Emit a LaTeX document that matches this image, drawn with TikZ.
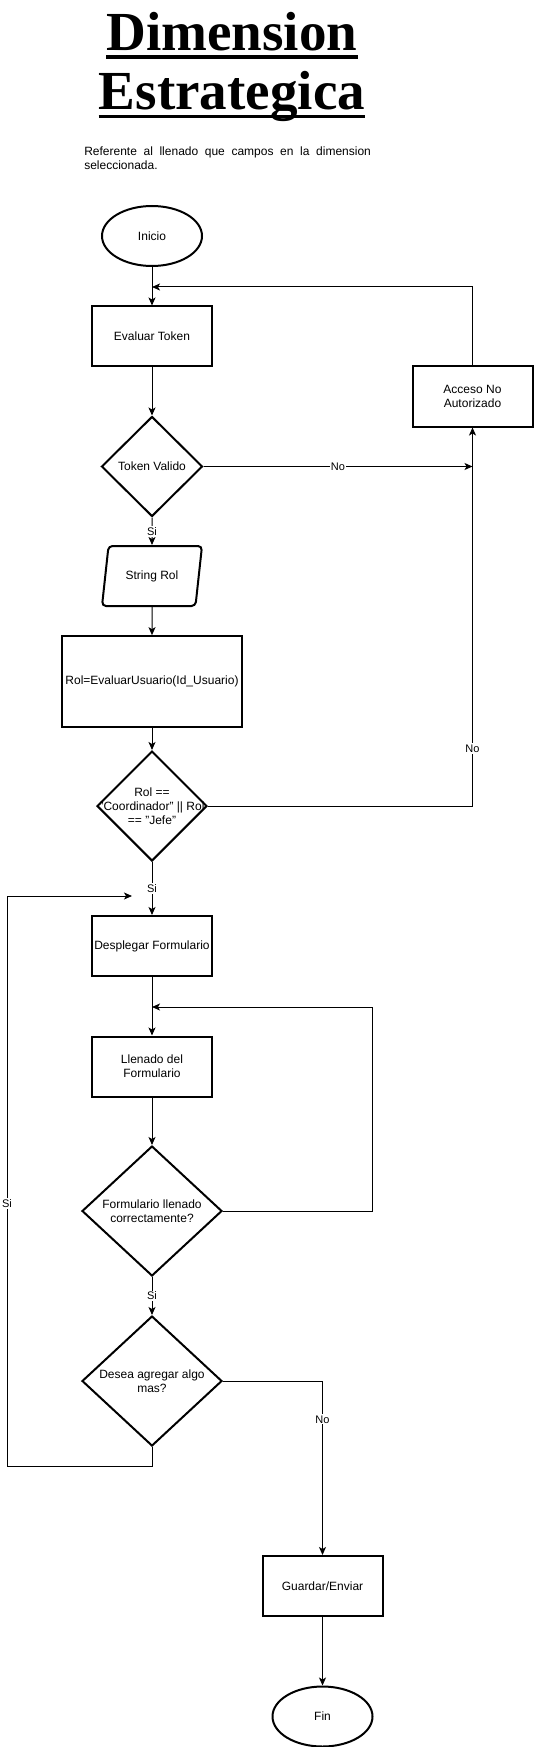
\documentclass[tikz,border=0pt]{standalone}
\usepackage{fontspec}
\setmainfont{Liberation Sans}
\newfontfamily\titlefont{Liberation Serif}
\usetikzlibrary{shapes.geometric,arrows.meta}

\begin{document}
\begin{tikzpicture}[x=0.75pt, y=-0.75pt,
      every node/.style = {font=\fontsize{9}{10.5}\selectfont, align=center},
      titletext/.style = {inner sep=0pt, anchor=base,
        font=\titlefont\bfseries\fontsize{41.3}{50}\selectfont},
      process/.style = {rectangle, draw, line width=1.5pt, inner sep=1pt,
        minimum width=90pt, minimum height=45pt},
      terminal/.style = {ellipse, draw, line width=1.5pt,
        minimum width=75pt, minimum height=45pt},
      decision/.style = {diamond, draw, line width=1.5pt, inner sep=0pt},
      iobox/.style = {trapezium, trapezium left angle=72, trapezium right angle=108,
        trapezium stretches body, draw, line width=1.5pt, rounded corners=3pt,
        minimum width=75pt, minimum height=45pt},
      arrow/.style = {-{Stealth[length=6pt, width=5.25pt, inset=1.5pt]}, line width=0.75pt},
      tag/.style = {fill=white, inner sep=1pt, font=\fontsize{8.25}{9}\selectfont}]
    \useasboundingbox (0,0) rectangle (534,1747);
    \node (dimension) at (232,51) [titletext] {Dimension};
    \node (estrategica) at (232,110) [titletext] {Estrategica};
    \draw[line width=2.4pt] ([yshift=-4.5pt]dimension.base west) -- ([yshift=-4.5pt]dimension.base east);
    \draw[line width=2.4pt] ([yshift=-5pt]estrategica.base west) -- ([yshift=-5pt]estrategica.base east);
    \node (intro) at (84,156) [anchor=base west, inner sep=0pt, text width=215pt, align=justify]
      {\hyphenpenalty=10000 \tolerance=9999 Referente al llenado que campos en la dimension seleccionada.\par};

    \node (inicio) at (152,236) [terminal] {Inicio};
    \node (evaltoken) at (152,336.5) [process] {Evaluar Token};
    \node (valido) at (152,466.5) [decision, minimum width=75.75pt, minimum height=75pt] {Token Valido};
    \node (acceso) at (472.5,396.5) [process] {Acceso No\\Autorizado};
    \node (strrol) at (152,576) [iobox] {String Rol};
    \node (evalrol) at (152,681.5) [process, minimum width=135pt, minimum height=68pt]
      {Rol=EvaluarUsuario(Id\_Usuario)};
    \node (esrol) at (152,806) [decision, minimum width=82.5pt, minimum height=82.5pt,
      label={[align=center]center:Rol ==\\"Coordinador" || Rol\\== "Jefe"}] {};
    \node (despliega) at (152,946) [process] {Desplegar Formulario};
    \node (llenado) at (152,1066.5) [process] {Llenado del\\Formulario};
    \node (correcto) at (152,1211) [decision, minimum width=105pt, minimum height=97.5pt]
      {Formulario llenado\\correctamente?};
    \node (agregar) at (152,1381) [decision, minimum width=105pt, minimum height=97.5pt]
      {Desea agregar algo\\mas?};
    \node (guardar) at (322.5,1586) [process] {Guardar/Enviar};
    \node (fin) at (322.5,1716.5) [terminal] {Fin};

    \coordinate (retorno) at (152,287);
    \coordinate (derecha) at (372,1007);
    \coordinate (regreso) at (152,1007);
    \coordinate (bajo) at (152,1466);
    \coordinate (izquierda) at (7,896);
    \coordinate (entrada) at (132,896);

    \draw[arrow] (inicio) -- (evaltoken);
    \draw[arrow] (acceso) |- (retorno);
    \draw[arrow] (evaltoken) -- (valido);
    \draw[arrow] (valido) -- node[tag]{No} (valido -| acceso);
    \draw[arrow] (valido) -- node[tag]{Si} (strrol);
    \draw[arrow] (strrol) -- (evalrol);
    \draw[arrow] (evalrol) -- (esrol);
    \draw[arrow] (esrol) -| node[tag, pos=0.576]{No} (acceso);
    \draw[arrow] (esrol) -- node[tag]{Si} (despliega);
    \draw[arrow] (despliega) -- (llenado);
    \draw[arrow] (llenado) -- (correcto);
    \draw[arrow] (correcto) -| (derecha) -- (regreso);
    \draw[arrow] (correcto) -- node[tag]{Si} (agregar);
    \draw[arrow] (agregar) -- (bajo) -| node[tag, pos=0.73]{Si} (izquierda) -- (entrada);
    \draw[arrow] (agregar) -| node[tag, pos=0.61]{No} (guardar);
    \draw[arrow] (guardar) -- (fin);
  \end{tikzpicture}
\end{document}
